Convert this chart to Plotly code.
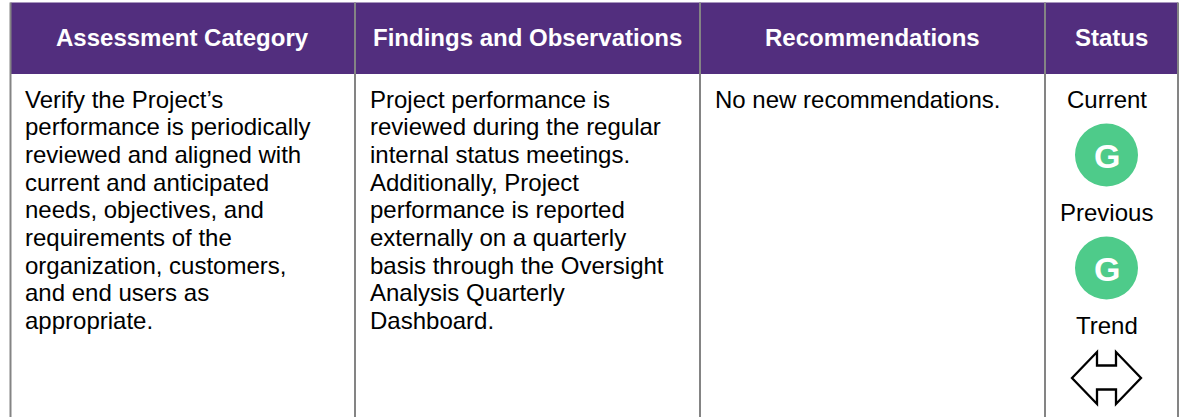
import plotly.graph_objects as go

W, H = 1182, 417
headers = ["Assessment Category", "Findings and Observations", "Recommendations", "Status"]
col1 = ["Verify the Project’s", "performance is periodically", "reviewed and aligned with", "current and anticipated",
        "needs, objectives, and", "requirements of the", "organization, customers,", "and end users as", "appropriate."]
col2 = ["Project performance is", "reviewed during the regular", "internal status meetings.", "Additionally, Project",
        "performance is reported", "externally on a quarterly", "basis through the Oversight", "Analysis Quarterly", "Dashboard."]
col3 = ["No new recommendations."]
status_labels = ["Current", "Previous", "Trend"]
status_grades = ["G", "G"]

EDGES = [10.5, 355, 700, 1045, 1178]
HEAD_TOP, HEAD_BOT = 2.5, 74
FONT = "Liberation Sans, Arial, sans-serif"
PURPLE = "#522e7e"
GREEN = "#4ecb8a"
GREY = "#848484"
BODY_SIZE = 24
LINE0, STEP = 99, 27.7

shapes = [dict(type="rect", x0=EDGES[0], x1=EDGES[-1], y0=HEAD_TOP, y1=HEAD_BOT, fillcolor=PURPLE, line_width=0, layer="below")]
for x in EDGES:
    shapes.append(dict(type="line", x0=x, x1=x, y0=HEAD_TOP, y1=H, line=dict(color=GREY, width=2)))

ann = []
def text(x, y, s, size=BODY_SIZE, color="#000", bold=False, xanchor="left"):
    ann.append(dict(x=x, y=y, text=f"<b>{s}</b>" if bold else s, showarrow=False, xanchor=xanchor, yanchor="middle",
                    borderpad=0, borderwidth=0, font=dict(family=FONT, size=size, color=color)))

for i, h in enumerate(headers):
    text((EDGES[i] + EDGES[i + 1]) / 2, 37, h, color="white", bold=True, xanchor="center")

for left, col in zip([24.5, 369.5, 714.5], [col1, col2, col3]):
    for i, s in enumerate(col):
        text(left, LINE0 + i * STEP, s)

cx = 1106.5
for y, s in zip([99, 212, 325], status_labels):
    text(cx, y, s, xanchor="center")
for y, s in zip([155, 268], status_grades):
    shapes.append(dict(type="circle", x0=cx - 31.5, x1=cx + 31.5, y0=y - 31.5, y1=y + 31.5, fillcolor=GREEN, line_width=0))
    text(cx, y + 1, s, size=34, color="white", bold=True, xanchor="center")

path = ("M {l} {c} L {n1} {t} L {n1} {u} L {n2} {u} L {n2} {t} L {r} {c} L {n2} {b} L {n2} {d} L {n1} {d} L {n1} {b} Z").format(
    l=cx - 34.5, r=cx + 34.5, c=378, n1=cx - 9.5, n2=cx + 9.5, t=352, b=404, u=365.5, d=389.5)
shapes.append(dict(type="path", path=path, fillcolor="white", line=dict(color="black", width=2.3)))

fig = go.Figure()
fig.update_layout(
    width=W, height=H, margin=dict(l=0, r=0, t=0, b=0), paper_bgcolor="white", plot_bgcolor="white", showlegend=False,
    xaxis=dict(range=[0, W], visible=False, fixedrange=True),
    yaxis=dict(range=[H, 0], visible=False, fixedrange=True),
    shapes=shapes, annotations=ann,
)
fig.write_html("out.html", config={"displayModeBar": False},
               post_script="document.body.style.margin='0';document.body.style.overflow='hidden';")
